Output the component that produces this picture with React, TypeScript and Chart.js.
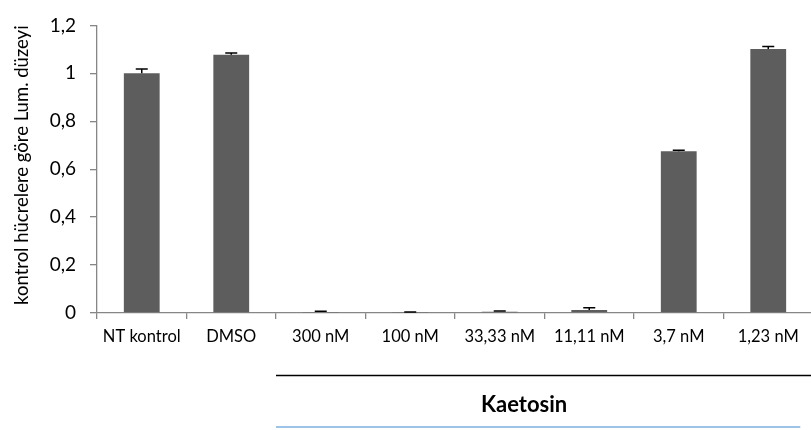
import React, { useEffect, useRef } from 'react';
import { Chart, registerables } from 'chart.js';

Chart.register(...registerables);

const categories = ['NT kontrol', 'DMSO', '300 nM', '100 nM', '33,33 nM', '11,11 nM', '3,7 nM', '1,23 nM'];
const values = [1.0, 1.078, 0.004, 0.002, 0.005, 0.013, 0.675, 1.102];
const errors = [0.018, 0.007, 0.003, 0.002, 0.003, 0.009, 0.004, 0.01];
const yTitle = 'kontrol hücrelere göre Lum. düzeyi';
const groupLabel = 'Kaetosin';
const groupStartIndex = 1.5;

const FONT = 'Lato';

const errorBarPlugin = {
  id: 'errorBars',
  afterDatasetsDraw(chart: any) {
    const meta = chart.getDatasetMeta(0);
    const ys = chart.scales.y;
    const ctx = chart.ctx;
    ctx.save();
    ctx.strokeStyle = '#000';
    ctx.lineWidth = 1.5;
    meta.data.forEach((el: any, i: number) => {
      const x = el.x;
      const yBase = el.y;
      const yTop = ys.getPixelForValue(values[i] + errors[i]);
      ctx.beginPath();
      ctx.moveTo(x, yBase);
      ctx.lineTo(x, yTop);
      ctx.moveTo(x - 6, yTop);
      ctx.lineTo(x + 6, yTop);
      ctx.stroke();
    });
    ctx.restore();
  },
};

const groupPlugin = {
  id: 'groupLabel',
  afterDraw(chart: any) {
    const xs = chart.scales.x;
    const ctx = chart.ctx;
    const bottom = chart.chartArea.bottom;
    const x0 = xs.getPixelForValue(groupStartIndex);
    const xEnd = xs.getPixelForValue(categories.length - 1);
    ctx.save();
    ctx.strokeStyle = '#000';
    ctx.lineWidth = 1.5;
    ctx.beginPath();
    ctx.moveTo(x0, bottom + 62.5);
    ctx.lineTo(chart.width, bottom + 62.5);
    ctx.stroke();
    ctx.strokeStyle = '#9dc3e6';
    ctx.lineWidth = 2;
    ctx.beginPath();
    ctx.moveTo(x0, bottom + 114);
    ctx.lineTo(xEnd + 32, bottom + 114);
    ctx.stroke();
    ctx.fillStyle = '#000';
    ctx.font = `bold 22px ${FONT}`;
    ctx.textAlign = 'center';
    ctx.textBaseline = 'middle';
    ctx.fillText(groupLabel, (x0 + xEnd) / 2 + 2, bottom + 92);
    ctx.restore();
  },
};

export default function App() {
  const ref = useRef<HTMLCanvasElement | null>(null);
  useEffect(() => {
    if (!ref.current) return;
    const chart = new Chart(ref.current, {
      type: 'bar',
      data: {
        labels: categories,
        datasets: [
          {
            data: values,
            backgroundColor: '#5d5d5d',
            borderWidth: 0,
            barPercentage: 0.4,
            categoryPercentage: 1,
          },
        ],
      },
      options: {
        responsive: false,
        animation: false,
        devicePixelRatio: 1,
        layout: { padding: { top: 13, left: 0, right: 0, bottom: 0 } },
        plugins: { legend: { display: false }, tooltip: { enabled: false } },
        scales: {
          x: {
            grid: {
              display: true,
              drawOnChartArea: false,
              drawTicks: true,
              tickLength: 6,
              color: '#868686',
              lineWidth: 1.3,
            },
            border: { display: true, color: '#868686', width: 1.3 },
            ticks: {
              color: '#000',
              font: { family: FONT, size: 16.5 },
              padding: 8,
              maxRotation: 0,
              autoSkip: false,
            },
            afterFit(scale: any) {
              scale.height = 117;
            },
          },
          y: {
            min: 0,
            max: 1.2,
            grid: {
              display: true,
              drawOnChartArea: false,
              drawTicks: true,
              tickLength: 7,
              color: '#868686',
              lineWidth: 1.3,
            },
            border: { display: true, color: '#868686', width: 1.3 },
            ticks: {
              stepSize: 0.2,
              color: '#000',
              font: { family: FONT, size: 19 },
              padding: 14,
              callback: (v: any) => String(Math.round(Number(v) * 10) / 10).replace('.', ','),
            },
            title: {
              display: true,
              text: yTitle,
              color: '#000',
              align: 'end',
              font: { family: FONT, size: 18.5 },
              padding: { top: 11, bottom: 0 },
            },
            afterFit(scale: any) {
              scale.width = 97;
            },
          },
        },
      },
      plugins: [errorBarPlugin, groupPlugin],
    });
    return () => chart.destroy();
  }, []);
  return (
    <div style={{ position: 'fixed', left: 0, top: 0, width: 811, height: 430, overflow: 'hidden', background: '#fff' }}>
      <canvas ref={ref} width={813} height={430} style={{ width: 813, height: 430, display: 'block' }} />
    </div>
  );
}
